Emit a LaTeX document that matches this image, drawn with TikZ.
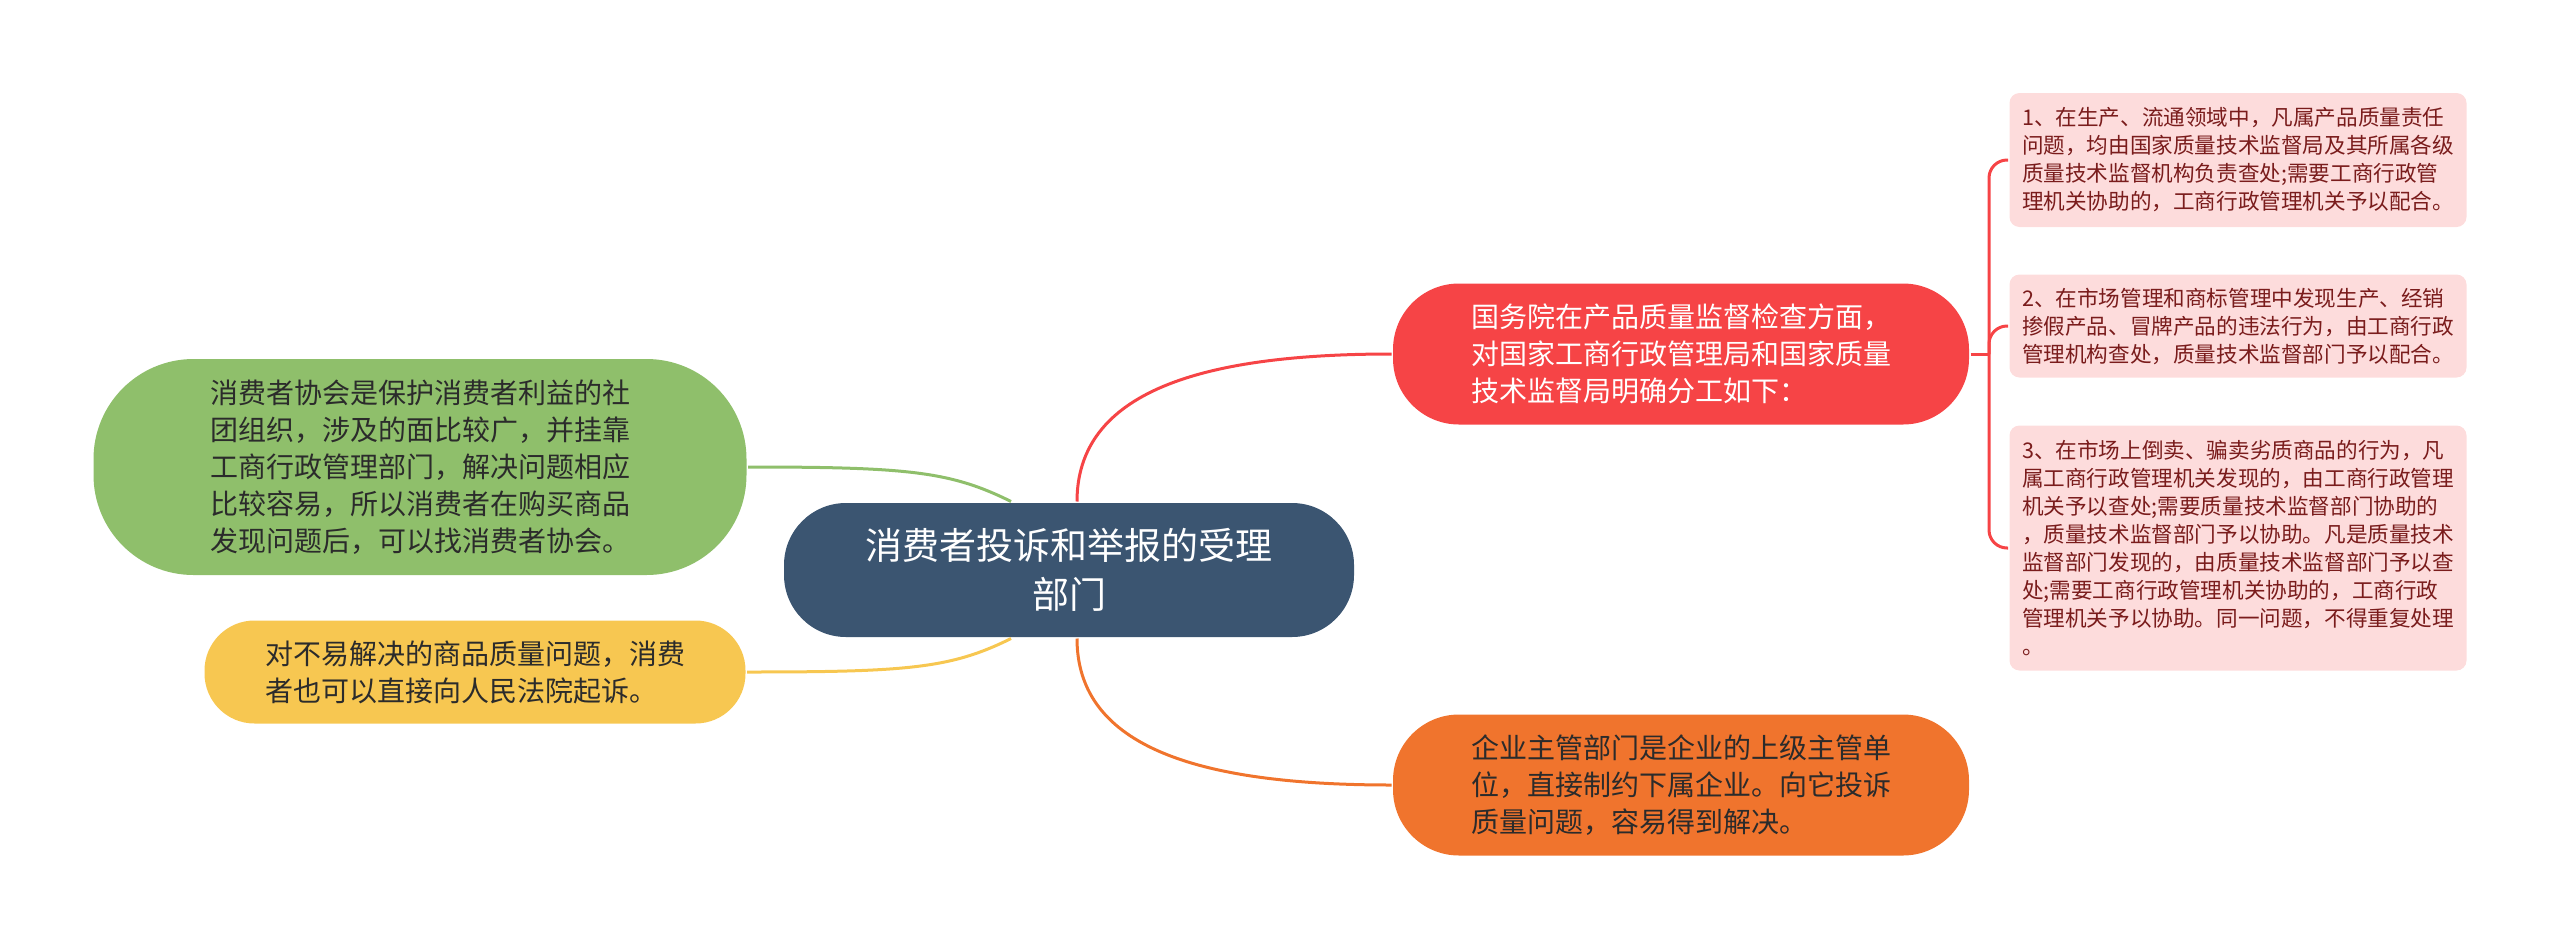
\documentclass[tikz,border=0pt]{standalone}
\usepackage{fontspec}
\setmainfont{Noto Sans CJK SC}
\usetikzlibrary{positioning,calc}
\definecolor{rootblue}{HTML}{3B5571}
\definecolor{topicred}{HTML}{F64446}
\definecolor{topicorange}{HTML}{F0742D}
\definecolor{topicgreen}{HTML}{8FBF6B}
\definecolor{topicyellow}{HTML}{F7C751}
\definecolor{leafpink}{HTML}{FDDCDC}
\definecolor{leaftext}{HTML}{7A1C1C}
\definecolor{darktext}{HTML}{2B2B2B}
\tikzset{
    every picture/.style={line width=3pt},
    rootbox/.style={fill=rootblue,text=white,rounded corners=62pt,minimum width=570pt,
        minimum height=134pt,inner sep=0pt,align=center,font=\fontsize{37}{49}\selectfont},
    topic/.style={rounded corners=66pt,minimum width=576pt,minimum height=141pt,
        inner sep=0pt,align=left,font=\fontsize{28}{37}\selectfont},
    leaf/.style={fill=leafpink,text=leaftext,rounded corners=10pt,minimum width=457pt,
        inner sep=0pt,align=left,font=\fontsize{21.6}{28}\selectfont},
    link/.style={line width=3pt}
}
\begin{document}
\begin{tikzpicture}[x=1pt,y=-1pt]
        \useasboundingbox (0,0) rectangle (2560,951);

        % Root
        \node[rootbox] (root) at (1069,570) {消费者投诉和举报的受理\\部门};

        % Right side
        \node[topic,fill=topicred,text=white] (council) at (1681,354)
            {国务院在产品质量监督检查方面，\\对国家工商行政管理局和国家质量\\技术监督局明确分工如下：};
        \node[topic,fill=topicorange,text=darktext] (dept) at (1681,785)
            {企业主管部门是企业的上级主管单\\位，直接制约下属企业。向它投诉\\质量问题，容易得到解决。};

        % Left side
        \node[topic,fill=topicgreen,text=darktext,minimum width=653pt,minimum height=216pt,
            rounded corners=100pt] (assoc) at (420,467)
            {消费者协会是保护消费者利益的社\\团组织，涉及的面比较广，并挂靠\\工商行政管理部门，解决问题相应\\比较容易，所以消费者在购买商品\\发现问题后，可以找消费者协会。};
        \node[topic,fill=topicyellow,text=darktext,minimum width=541pt,minimum height=103pt,
            rounded corners=50pt] (court) at (475,672)
            {对不易解决的商品质量问题，消费\\者也可以直接向人民法院起诉。};

        % Leaves
        \node[leaf,minimum height=134pt] (rule1) at (2238,160)
            {1、在生产、流通领域中，凡属产品质量责任\\问题，均由国家质量技术监督局及其所属各级\\质量技术监督机构负责查处;需要工商行政管\\理机关协助的，工商行政管理机关予以配合。};
        \node[leaf,minimum height=103pt] (rule2) at (2238,326)
            {2、在市场管理和商标管理中发现生产、经销\\掺假产品、冒牌产品的违法行为，由工商行政\\管理机构查处，质量技术监督部门予以配合。};
        \node[leaf,minimum height=245pt] (rule3) at (2238,548)
            {3、在市场上倒卖、骗卖劣质商品的行为，凡\\属工商行政管理机关发现的，由工商行政管理\\机关予以查处;需要质量技术监督部门协助的\\，质量技术监督部门予以协助。凡是质量技术\\监督部门发现的，由质量技术监督部门予以查\\处;需要工商行政管理机关协助的，工商行政\\管理机关予以协助。同一问题，不得重复处理\\。};

        % Connectors
        \draw[link,topicred] ($(root.north)+(8,0)$) .. controls +(0,-110) and +(-190,0) .. (council.west);
        \draw[link,topicorange] ($(root.south)+(8,0)$) .. controls +(0,110) and +(-190,0) .. (dept.west);
        \draw[link,topicgreen] ($(root.north)+(-58,0)$) .. controls +(-60,-30) and +(160,0) .. (assoc.east);
        \draw[link,topicyellow] ($(root.south)+(-58,0)$) .. controls +(-60,30) and +(160,0) .. (court.east);

        \coordinate (fork) at (1989,354);
        \draw[link,topicred] (council.east) -- (fork);
        \foreach \r in {rule1,rule2,rule3}
            \draw[link,topicred,rounded corners=18pt] (fork) |- (\r.west);
\end{tikzpicture}
\end{document}
